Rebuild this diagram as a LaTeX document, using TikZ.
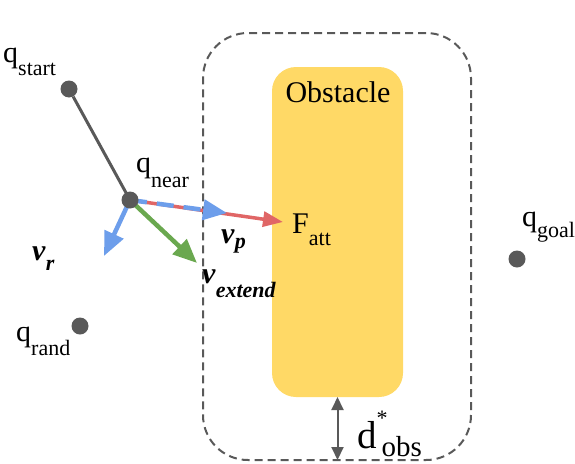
\documentclass[tikz,border=0pt]{standalone}
\usepackage{fontspec}
\setmainfont{Liberation Serif}
\usepackage{xcolor}
\usepackage{tikz}
\usetikzlibrary{arrows.meta, positioning}

\definecolor{obsyellow}{HTML}{FFD966}
\definecolor{dotgray}{HTML}{595959}
\definecolor{vblue}{HTML}{6D9EEB}
\definecolor{vgreen}{HTML}{6AA84F}
\definecolor{vred}{HTML}{E06666}

\newcommand{\sublab}[2][13pt]{\raisebox{-#1}{\fontsize{22pt}{22pt}\selectfont #2}}
\newcommand{\vlab}[2][10pt]{\textbf{\textit{v}}\raisebox{-#1}{\fontsize{22pt}{22pt}\selectfont\textbf{\textit{#2}}}}

\tikzset{
  dot/.style={circle, fill=dotgray, minimum size=17pt, inner sep=0pt},
  lab/.style={font=\fontsize{30pt}{30pt}\selectfont, inner sep=0pt},
  edge/.style={dotgray, line width=3pt},
  vec/.style={line width=4.5pt, -{Triangle[length=24pt, width=20pt]}},
  bound/.style={draw=dotgray, line width=2pt, dash pattern=on 8pt off 5pt,
    rounded corners=45pt, minimum width=268pt, minimum height=427pt,
    inner sep=0pt, outer sep=0pt},
  obstacle/.style={fill=obsyellow, rounded corners=24pt, minimum width=131pt,
    minimum height=330pt, inner sep=0pt, outer sep=0pt},
  dimarr/.style={dotgray, line width=2pt, {Triangle[length=13pt, width=12pt]}-{Triangle[length=13pt, width=12pt]}}
}

\begin{document}
\begin{tikzpicture}[x=1pt, y=-1pt]
  \useasboundingbox (0,0) rectangle (575,463);
  % obstacle and its safety margin
  \node[bound] (bound) at (337,246.5) {};
  \node[obstacle] (obst) at (337.5,232) {};
  \node[lab, anchor=base] (obstlab) at (338,102) {Obstacle};
  \draw[dimarr] (obst.south) -- (obst.south |- bound.south);
  \node[lab, anchor=base west] (dobslab) at (357,448)
    {{\fontsize{39pt}{39pt}\selectfont d}\rlap{\raisebox{23pt}{\fontsize{22pt}{22pt}\selectfont *}}\raisebox{-8pt}{\kern5pt\fontsize{29pt}{29pt}\selectfont obs}};

  % vectors at q_near
  \coordinate (near) at (130,200);
  \coordinate (vrtip) at (104,256);
  \coordinate (vetip) at (197,263);
  \coordinate (vptip) at (227,213);
  \coordinate (fatip) at (283,222);
  \draw[vec, vred, line width=3.5pt, -{Triangle[length=20pt, width=15pt]}] (near) -- (fatip);
  \draw[vec, vblue, dash pattern=on 17pt off 10pt] (near) -- (vptip);
  \draw[vec, vblue] (near) -- (vrtip);
  \draw[vec, vgreen] (near) -- (vetip);

  % tree nodes
  \node[dot] (qstart) at (69,89) {};
  \draw[edge] (qstart) -- (near);
  \node[dot] (qnear) at (near) {};
  \node[dot] (qrand) at (80,326) {};
  \node[dot] (qgoal) at (517,259) {};

  % labels
  \node[lab, anchor=base west] (qstartlab) at (3,62) {q\sublab{start}};
  \node[lab, anchor=base west] (qnearlab) at (136,172) {q\sublab[15pt]{near}};
  \node[lab, anchor=base west] (qrandlab) at (16,341) {q\sublab[14pt]{rand}};
  \node[lab, anchor=base west] (qgoallab) at (522,226) {q\sublab[11pt]{goal}};
  \node[lab, anchor=base west] (fattlab) at (292,233) {F\sublab[12pt]{att}};
  \node[lab, anchor=base west] (vrlab) at (32,260) {\vlab{r}};
  \node[lab, anchor=base west] (vplab) at (221,243) {\vlab[5pt]{p}};
  \node[lab, anchor=base west] (vextlab) at (202,283) {\vlab[14pt]{extend}};
\end{tikzpicture}
\end{document}
